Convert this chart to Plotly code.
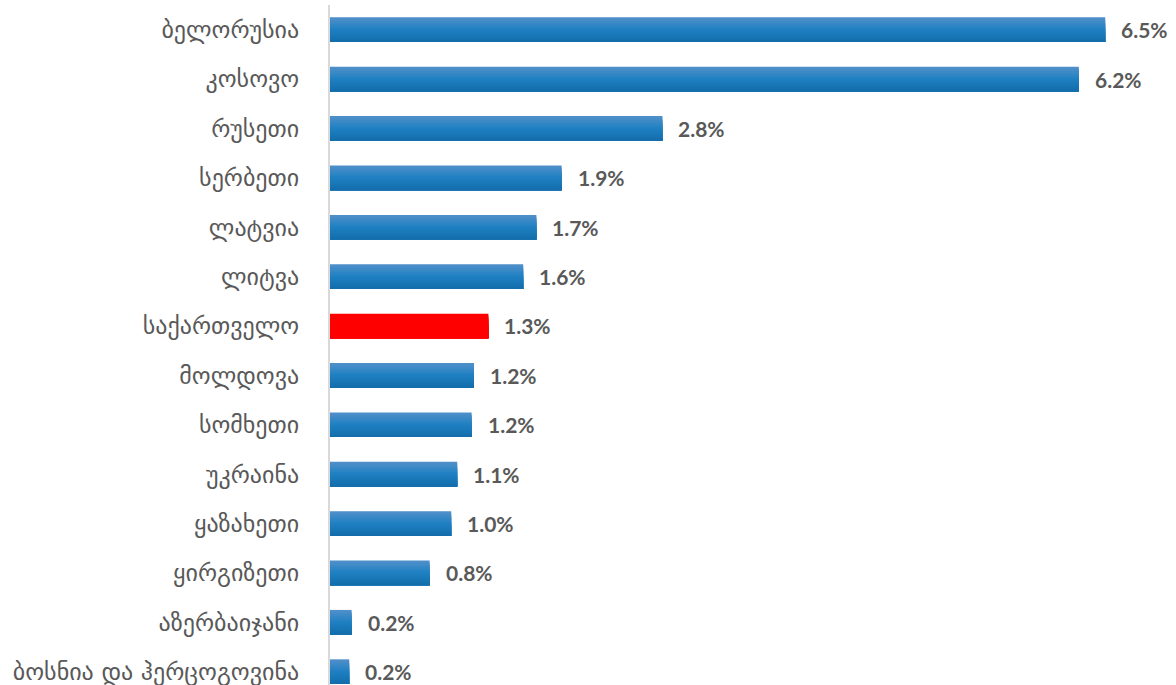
import plotly.graph_objects as go

countries = ["ბელორუსია", "კოსოვო", "რუსეთი", "სერბეთი", "ლატვია", "ლიტვა",
             "საქართველო", "მოლდოვა", "სომხეთი", "უკრაინა", "ყაზახეთი",
             "ყირგიზეთი", "აზერბაიჯანი", "ბოსნია და ჰერცოგოვინა"]
values = [6.46, 6.24, 2.77, 1.93, 1.72, 1.61, 1.32, 1.20, 1.18, 1.06, 1.01, 0.83, 0.18, 0.16]
highlight = "საქართველო"

# vertical gradient of the blue bars (top -> bottom)
top_rgb = (78, 143, 201)
mid_rgb = (30, 128, 194)
bot_rgb = (20, 110, 172)
n_bands = 12
bar_w = 0.5


def lerp(a, b, t):
    return tuple(round(a[i] + (b[i] - a[i]) * t) for i in range(3))


fig = go.Figure()
for k in range(n_bands):
    t = k / (n_bands - 1)
    if t < 0.5:
        rgb = lerp(top_rgb, mid_rgb, t / 0.5)
    else:
        rgb = lerp(mid_rgb, bot_rgb, (t - 0.5) / 0.5)
    blue = "rgb(%d,%d,%d)" % rgb
    colors = ["#ff0000" if c == highlight else blue for c in countries]
    band = bar_w / n_bands
    fig.add_trace(go.Bar(
        x=values, y=countries, orientation="h",
        marker=dict(color=colors, line=dict(width=0)),
        width=bar_w - k * band, offset=-bar_w / 2 + k * band,
        hoverinfo="skip",
    ))

for c, v in zip(countries, values):
    fig.add_annotation(
        x=v, y=c, xref="x", yref="y",
        text=f"<b>{v:.1f}%</b>", showarrow=False,
        xanchor="left", yanchor="middle", xshift=14,
        font=dict(family="Lato", size=21, color="#595959"),
    )

fig.update_layout(
    width=1176, height=685,
    margin=dict(l=330, r=0, t=5, b=0),
    paper_bgcolor="white", plot_bgcolor="white",
    showlegend=False, barmode="overlay",
    xaxis=dict(range=[0, 7.05], visible=False, fixedrange=True),
    yaxis=dict(
        type="category", categoryorder="array", categoryarray=countries,
        range=[13.27, -0.5],
        showline=True, linecolor="#d9d9d9", linewidth=2,
        showgrid=False, zeroline=False, ticks="",
        ticklabelstandoff=24,
        tickfont=dict(family="DejaVu Sans", size=24, color="#595959"),
    ),
)

fig.write_html("out.html")
